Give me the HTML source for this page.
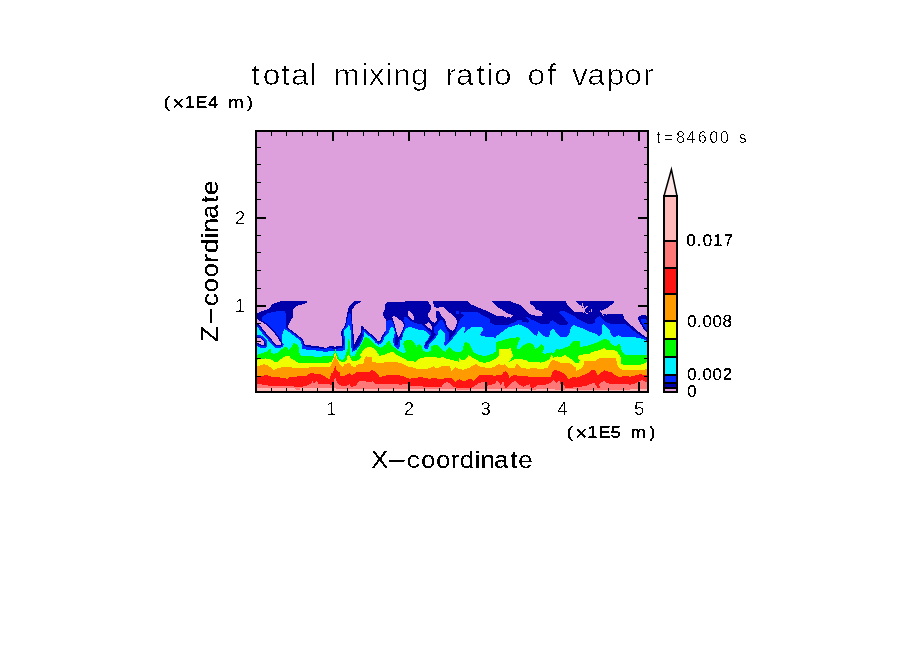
<!DOCTYPE html>
<html><head><meta charset="utf-8"><title>total mixing ratio of vapor</title>
<style>
html,body{margin:0;padding:0;background:#fff;}
body{width:904px;height:654px;overflow:hidden;font-family:"Liberation Sans",sans-serif;}
svg{display:block;position:absolute;left:0;top:0}
text{font-family:"Liberation Sans",sans-serif;}
.thin{stroke:#fff;stroke-width:0.85px;}
.med{stroke:#fff;stroke-width:0.3px;}
.ax{stroke:#fff;stroke-width:0.12px;}
.cb{stroke:#fff;stroke-width:0.07px;}
</style></head><body>
<svg width="904" height="654" viewBox="0 0 904 654">
<defs>
<filter id="th" x="-5%" y="-20%" width="110%" height="140%" color-interpolation-filters="sRGB">
<feColorMatrix type="matrix" values="0 0 0 0 0  0 0 0 0 0  0 0 0 0 0  -1 0 0 1 0"/>
<feComponentTransfer><feFuncA type="discrete" tableValues="0 1 1 1"/></feComponentTransfer>
</filter>
<clipPath id="pc"><rect x="256" y="131" width="392" height="261"/></clipPath></defs>
<rect width="904" height="654" fill="#fff"/>
<g shape-rendering="crispEdges">
<rect x="256" y="131" width="392" height="261" fill="#DDA0DD"/>
<g clip-path="url(#pc)">
<polygon points="254.0,313.3 257.0,313.3 269.3,308.4 272.0,304.4 281.7,300.9 307.0,300.9 307.0,302.7 296.4,306.2 293.3,309.3 292.8,317.3 290.1,321.7 287.9,326.6 287.9,331.0 295.0,335.5 301.2,340.3 304.8,344.8 319.9,346.6 326.1,347.9 330.5,345.7 336.0,347.0 336.0,346.1 344.4,346.1 344.9,338.6 342.2,333.3 342.2,329.3 344.9,326.2 347.5,312.0 349.3,305.8 354.2,300.9 360.8,300.9 360.8,302.2 356.4,304.0 353.7,307.5 351.5,309.7 351.8,322.6 352.4,340.3 352.9,346.1 355.1,343.0 358.2,336.8 361.3,331.5 361.1,326.6 362.6,326.2 365.3,329.7 371.5,335.0 376.8,341.7 379.9,341.2 382.1,335.9 385.7,330.6 385.7,319.1 383.0,315.5 383.5,312.0 385.2,308.4 385.2,304.0 387.4,301.8 404.3,301.8 407.0,300.9 416.0,300.9 614.1,300.9 614.0,302.2 612.6,303.9 609.2,305.8 608.2,307.8 605.3,308.8 603.3,310.2 601.4,311.2 602.3,314.2 606.3,314.2 612.8,314.2 623.0,314.2 624.3,318.6 629.2,323.5 638.1,331.5 647.0,337.7 650.0,337.7 651.0,395.0 253.0,395.0" fill="#0000AA" />
<polygon points="638.1,317.3 641.6,315.1 645.2,315.1 647.0,316.4 647.0,332.4 643.4,328.8 639.9,322.6 638.1,319.5" fill="#0000AA" />
<polyline points="257.0,321.0 262.0,324.0 268.0,329.0 273.0,335.0 277.0,341.0 281.0,344.5 282.2,340.0 282.4,334.4 284.4,329.2 286.6,330.1 295.0,336.4 300.3,340.8 302.1,345.7 302.1,349.2 313.7,350.2 323.4,351.5 326.3,351.9 331.9,350.7 336.7,350.7 341.4,351.1 344.6,349.5 345.3,342.1 344.9,337.7 344.0,334.1 344.4,330.6 346.6,328.4 348.4,325.3 350.2,325.7 350.6,331.5 350.9,337.7 351.3,345.7 351.8,351.9 356.0,350.1 359.8,345.7 362.4,340.3 364.2,335.5 363.7,331.3 365.4,333.3 371.5,337.7 375.9,343.0 378.6,344.8 383.0,342.1 384.3,337.7 388.3,333.3 391.0,327.0 392.8,327.0 394.5,330.6 395.4,335.9 398.1,338.6 401.6,340.3 403.8,331.9 406.1,328.1 408.3,327.2 412.3,327.5 416.0,329.0 420.0,330.0 423.9,330.1 429.8,335.1 428.3,338.6 425.9,341.5 424.7,344.4 423.9,347.4 424.9,348.8 426.9,349.3 428.3,347.9 429.1,344.7 431.3,342.0 434.7,338.6 437.6,335.1 438.1,331.2 440.6,329.0 443.0,331.2 445.0,333.7 444.5,342.5 444.0,344.4 445.5,345.9 447.4,343.9 451.3,340.0 455.2,335.6 458.2,331.2 461.1,328.3 464.0,326.3 464.8,327.9 464.3,333.3 469.2,328.8 471.9,327.0 482.1,327.0 483.0,329.7 479.9,335.0 483.4,336.4 488.7,336.8 496.0,337.7 496.0,336.4 500.4,333.3 504.9,329.7 509.3,327.0 513.7,326.2 518.2,324.4 522.6,325.7 527.9,328.4 531.5,332.4 535.0,335.0 537.2,335.9 538.1,330.1 540.3,333.3 543.9,336.4 549.2,337.2 549.7,333.3 551.0,329.7 553.6,329.3 555.4,331.5 558.1,335.0 561.6,337.2 567.0,337.2 569.6,333.3 570.9,327.0 573.2,325.3 576.0,325.7 576.0,326.2 581.3,327.9 589.3,331.5 596.4,334.1 599.5,336.4 601.7,333.3 602.4,325.3 603.5,324.2 606.2,326.2 609.7,330.6 611.5,335.0 614.1,337.2 618.6,335.0 622.1,337.2 629.2,337.0 638.1,337.7 644.3,339.5 647.0,341.2" fill="none" stroke="#0000AA" stroke-width="5.60" stroke-linejoin="round" />
<polygon points="261.9,317.0 267.3,313.4 272.0,312.2 278.0,311.2 285.4,311.2 285.9,317.8 286.0,329.0 284.4,329.2 282.4,334.4 282.2,340.0 281.0,344.5 277.0,341.0 273.0,335.0 268.0,329.0 262.0,324.0" fill="#0028FF" />
<polygon points="385.9,321.7 389.2,319.8 392.8,320.8 394.1,324.4 395.4,329.7 397.2,335.9 396.3,337.7 394.5,338.6 385.7,338.6 384.3,337.7 385.2,331.5 386.1,329.7" fill="#0028FF" />
<polygon points="404.1,317.6 405.4,317.1 407.8,317.6 410.3,321.0 414.2,322.5 418.1,324.0 420.0,324.1 422.0,324.4 424.9,327.8 429.8,331.7 431.3,332.7 429.8,336.0 423.9,332.0 420.0,332.0 416.0,330.0 409.6,328.8 407.0,331.5 404.3,336.8 401.6,341.2 398.1,338.6" fill="#0028FF" />
<polygon points="434.2,326.8 436.6,324.9 439.6,320.4 441.5,319.5 443.0,320.0 444.5,324.4 446.4,329.3 449.4,332.7 449.3,338.1 445.5,345.9 444.0,344.4 444.5,342.5 445.0,333.7 443.0,331.2 440.6,329.0 438.1,331.2 437.6,335.1 434.7,338.6 436.2,334.2 434.2,332.7 434.0,329.7" fill="#0028FF" />
<polygon points="348.0,313.7 350.2,312.9 351.3,318.2 351.8,325.3 351.1,331.5 350.2,333.3 346.6,333.3 344.9,331.5 344.9,329.7 345.8,326.2 347.1,320.8" fill="#0028FF" />
<polygon points="640.7,319.5 643.4,318.6 647.0,319.9 647.0,331.0 644.3,327.0 641.6,322.6" fill="#0028FF" />
<polygon points="303.0,344.9 305.7,346.6 316.0,348.3 324.0,348.7 329.5,348.0 335.0,349.0 339.9,348.3 343.8,347.6 345.4,344.8 346.8,344.8 345.0,351.5 303.0,351.0" fill="#0028FF" />
<polygon points="456.0,311.2 459.0,311.2 459.0,313.7 456.0,313.7" fill="#0028FF" />
<polygon points="455.0,333.7 457.7,325.3 460.3,319.5 464.3,315.1 461.2,313.7 461.2,311.5 476.3,311.5 479.9,313.7 489.6,319.1 489.6,322.6 496.0,325.3 496.0,325.3 504.9,325.3 509.3,324.4 513.7,322.6 518.2,319.9 520.8,319.5 522.6,321.7 527.9,322.6 529.7,320.8 525.3,317.3 526.2,316.8 531.5,319.5 535.9,321.7 542.1,324.4 548.3,324.4 550.1,321.7 552.8,319.9 554.5,321.7 558.1,324.4 567.0,325.3 567.8,322.6 565.2,319.1 561.6,315.5 559.0,312.9 560.7,311.1 565.2,311.5 569.6,313.7 573.2,315.5 576.0,316.8 576.0,318.2 581.3,320.8 586.6,323.5 592.0,323.9 595.1,322.2 595.1,319.1 597.3,316.8 599.9,316.4 602.6,319.5 605.3,321.7 609.7,323.5 625.7,323.9 631.0,328.8 638.1,334.1 647.0,339.5 651.0,339.5 651.0,352.0 455.0,352.0" fill="#0028FF" />
<polyline points="257.0,321.0 262.0,324.0 268.0,329.0 273.0,335.0 277.0,341.0 281.0,344.5 282.2,340.0 282.4,334.4 284.4,329.2 286.6,330.1 295.0,336.4 300.3,340.8 302.1,345.7 302.1,349.2 313.7,350.2 323.4,351.5 326.3,351.9 331.9,350.7 336.7,350.7 341.4,351.1 344.6,349.5 345.3,342.1 344.9,337.7 344.0,334.1 344.4,330.6 346.6,328.4 348.4,325.3 350.2,325.7 350.6,331.5 350.9,337.7 351.3,345.7 351.8,351.9 356.0,350.1 359.8,345.7 362.4,340.3 364.2,335.5 363.7,331.3 365.4,333.3 371.5,337.7 375.9,343.0 378.6,344.8 383.0,342.1 384.3,337.7 388.3,333.3 391.0,327.0 392.8,327.0 394.5,330.6 395.4,335.9 398.1,338.6 401.6,340.3 403.8,331.9 406.1,328.1 408.3,327.2 412.3,327.5 416.0,329.0 420.0,330.0 423.9,330.1 429.8,335.1 428.3,338.6 425.9,341.5 424.7,344.4 423.9,347.4 424.9,348.8 426.9,349.3 428.3,347.9 429.1,344.7 431.3,342.0 434.7,338.6 437.6,335.1 438.1,331.2 440.6,329.0 443.0,331.2 445.0,333.7 444.5,342.5 444.0,344.4 445.5,345.9 447.4,343.9 451.3,340.0 455.2,335.6 458.2,331.2 461.1,328.3 464.0,326.3 464.8,327.9 464.3,333.3 469.2,328.8 471.9,327.0 482.1,327.0 483.0,329.7 479.9,335.0 483.4,336.4 488.7,336.8 496.0,337.7 496.0,336.4 500.4,333.3 504.9,329.7 509.3,327.0 513.7,326.2 518.2,324.4 522.6,325.7 527.9,328.4 531.5,332.4 535.0,335.0 537.2,335.9 538.1,330.1 540.3,333.3 543.9,336.4 549.2,337.2 549.7,333.3 551.0,329.7 553.6,329.3 555.4,331.5 558.1,335.0 561.6,337.2 567.0,337.2 569.6,333.3 570.9,327.0 573.2,325.3 576.0,325.7 576.0,326.2 581.3,327.9 589.3,331.5 596.4,334.1 599.5,336.4 601.7,333.3 602.4,325.3 603.5,324.2 606.2,326.2 609.7,330.6 611.5,335.0 614.1,337.2 618.6,335.0 622.1,337.2 629.2,337.0 638.1,337.7 644.3,339.5 647.0,341.2" fill="none" stroke="#0028FF" stroke-width="3.00" stroke-linejoin="round" />
<polygon points="254.0,321.0 257.0,321.0 262.0,324.0 268.0,329.0 273.0,335.0 277.0,341.0 281.0,344.5 282.2,340.0 282.4,334.4 284.4,329.2 286.6,330.1 295.0,336.4 300.3,340.8 302.1,345.7 302.1,349.2 313.7,350.2 323.4,351.5 326.3,351.9 331.9,350.7 336.7,350.7 341.4,351.1 344.6,349.5 345.3,342.1 344.9,337.7 344.0,334.1 344.4,330.6 346.6,328.4 348.4,325.3 350.2,325.7 350.6,331.5 350.9,337.7 351.3,345.7 351.8,351.9 356.0,350.1 359.8,345.7 362.4,340.3 364.2,335.5 363.7,331.3 365.4,333.3 371.5,337.7 375.9,343.0 378.6,344.8 383.0,342.1 384.3,337.7 388.3,333.3 391.0,327.0 392.8,327.0 394.5,330.6 395.4,335.9 398.1,338.6 401.6,340.3 403.8,331.9 406.1,328.1 408.3,327.2 412.3,327.5 416.0,329.0 420.0,330.0 423.9,330.1 429.8,335.1 428.3,338.6 425.9,341.5 424.7,344.4 423.9,347.4 424.9,348.8 426.9,349.3 428.3,347.9 429.1,344.7 431.3,342.0 434.7,338.6 437.6,335.1 438.1,331.2 440.6,329.0 443.0,331.2 445.0,333.7 444.5,342.5 444.0,344.4 445.5,345.9 447.4,343.9 451.3,340.0 455.2,335.6 458.2,331.2 461.1,328.3 464.0,326.3 464.8,327.9 464.3,333.3 469.2,328.8 471.9,327.0 482.1,327.0 483.0,329.7 479.9,335.0 483.4,336.4 488.7,336.8 496.0,337.7 496.0,336.4 500.4,333.3 504.9,329.7 509.3,327.0 513.7,326.2 518.2,324.4 522.6,325.7 527.9,328.4 531.5,332.4 535.0,335.0 537.2,335.9 538.1,330.1 540.3,333.3 543.9,336.4 549.2,337.2 549.7,333.3 551.0,329.7 553.6,329.3 555.4,331.5 558.1,335.0 561.6,337.2 567.0,337.2 569.6,333.3 570.9,327.0 573.2,325.3 576.0,325.7 576.0,326.2 581.3,327.9 589.3,331.5 596.4,334.1 599.5,336.4 601.7,333.3 602.4,325.3 603.5,324.2 606.2,326.2 609.7,330.6 611.5,335.0 614.1,337.2 618.6,335.0 622.1,337.2 629.2,337.0 638.1,337.7 644.3,339.5 647.0,341.2 650.0,341.2 651.0,395.0 253.0,395.0" fill="#00F0FF" />
<polygon points="431.3,332.2 436.2,334.2 434.7,338.6 431.3,342.0 429.1,344.7 428.3,347.9 426.9,349.3 424.9,348.8 423.9,347.4 424.7,344.4 425.9,341.5 428.3,338.6 429.8,335.1" fill="#0028FF" />
<polygon points="431.0,332.2 434.2,332.7 436.2,334.2 433.7,337.6 429.8,341.5 427.3,344.4 426.4,345.9 424.9,345.4 426.4,342.5 429.3,338.6 431.3,334.6" fill="#0000AA" />
<polygon points="394.0,335.1 395.9,332.0 395.2,326.0 394.8,322.0 403.9,322.0 403.9,326.0 403.1,332.0 402.7,337.1 399.9,339.5 399.9,345.9 399.1,348.7 396.7,348.7 395.2,346.7 393.6,344.3 393.2,340.3" fill="#0028FF" />
<polygon points="395.9,333.9 398.7,336.7 401.5,333.9 401.5,337.1 399.1,339.5 397.9,344.7 395.5,344.7 395.2,339.5" fill="#0000AA" />
<polygon points="254.1,355.1 257.1,355.1 261.3,353.3 264.9,352.4 268.4,350.6 270.2,347.4 271.3,352.9 273.7,353.7 276.8,353.3 280.8,349.5 284.4,347.5 286.6,347.1 288.4,349.7 290.1,348.4 291.9,346.2 293.3,343.1 295.0,343.5 297.2,344.9 298.6,347.1 298.6,352.0 301.2,355.7 309.2,356.2 318.1,356.8 324.0,356.3 331.9,356.3 334.3,353.5 335.5,349.1 336.3,353.1 339.1,358.3 342.2,360.3 344.6,357.5 346.6,351.9 348.0,348.0 348.4,338.8 349.4,338.8 349.9,348.7 349.7,352.7 351.0,356.7 352.6,356.3 356.0,355.1 354.6,355.1 357.3,350.6 359.9,346.2 362.6,342.2 364.4,337.6 367.0,337.3 369.7,338.7 373.3,342.7 376.8,345.8 380.3,347.7 383.0,346.6 385.7,344.4 388.3,341.5 389.7,341.3 391.4,344.4 392.8,346.2 398.1,350.4 403.4,353.0 406.1,352.1 404.7,348.4 403.0,343.5 404.3,341.3 407.0,340.3 411.4,339.8 414.0,342.2 416.0,345.3 416.0,348.4 417.8,344.9 420.0,344.0 422.2,347.5 423.1,350.6 426.6,352.4 430.6,351.1 431.5,346.2 433.7,344.9 438.2,345.3 441.7,349.3 445.3,352.0 447.0,349.3 449.3,347.1 451.5,349.3 455.9,352.4 460.3,352.4 463.0,349.3 463.9,344.0 465.7,342.0 469.2,343.5 471.0,347.5 472.8,351.1 476.3,354.2 481.6,355.5 487.0,355.5 492.3,353.7 494.9,352.0 496.0,351.1 496.0,341.8 501.3,340.9 506.6,339.1 512.0,337.8 519.1,337.3 519.9,339.5 517.7,344.0 516.8,348.4 519.9,348.9 522.6,346.2 525.3,343.8 529.7,343.1 533.3,344.9 534.6,347.5 535.0,349.7 537.7,347.5 541.2,344.2 543.5,345.8 543.9,349.3 542.1,353.3 545.7,353.7 551.0,352.4 553.6,352.9 556.3,349.3 558.1,348.4 559.4,349.7 565.2,347.5 569.6,345.8 571.4,343.1 573.2,340.9 576.0,340.9 576.0,340.9 580.0,340.9 580.0,347.1 583.1,346.6 590.2,344.9 596.4,342.7 600.8,340.4 603.5,339.1 607.0,339.1 609.7,341.3 610.6,343.5 613.3,345.3 616.8,346.2 618.1,344.4 619.9,344.0 620.8,347.5 622.1,352.0 625.7,355.1 628.3,355.5 632.8,355.1 647.0,354.8 650.0,354.8 651.0,395.0 253.0,395.0" fill="#00FA00" />
<polygon points="254.1,359.8 257.1,359.8 261.3,358.9 265.8,358.4 272.0,359.8 273.7,361.7 278.2,361.5 279.9,359.8 282.6,357.7 286.2,356.2 289.3,356.2 291.5,358.9 295.0,360.4 297.7,362.4 300.3,362.8 328.7,362.8 327.9,363.1 331.9,361.5 333.9,356.7 335.1,351.9 337.1,358.3 339.9,361.1 343.0,362.7 346.2,360.7 347.8,354.7 350.2,357.1 351.8,361.1 356.0,361.5 355.1,361.3 358.2,359.9 360.7,357.7 360.4,354.2 362.6,351.1 365.3,348.0 368.8,347.1 372.4,347.5 375.0,349.7 377.7,352.9 379.3,355.7 383.9,355.1 387.4,353.3 391.0,352.1 393.6,352.1 396.3,354.4 400.7,356.8 405.2,359.2 408.7,361.5 412.3,361.3 416.0,361.7 416.0,361.7 418.7,358.9 424.9,357.3 433.7,357.3 440.8,357.7 442.2,356.4 445.3,358.2 451.5,359.9 455.0,360.8 458.6,361.7 459.5,358.2 462.1,360.4 465.7,359.1 468.8,355.1 471.9,357.3 476.3,359.5 480.7,362.4 485.2,362.6 489.6,361.7 493.2,359.9 496.0,358.6 496.0,357.7 498.2,357.3 499.5,352.9 498.7,348.4 504.9,349.3 511.1,348.2 512.0,353.7 513.7,355.1 511.5,358.2 509.3,361.7 513.7,359.5 519.1,358.9 525.3,359.8 528.8,361.7 535.0,361.7 540.3,362.6 545.7,361.3 549.2,359.5 551.4,355.1 553.6,357.7 557.2,356.4 560.7,357.3 565.2,355.1 568.7,357.3 572.3,359.9 576.0,363.5 576.0,363.5 578.7,362.6 580.0,360.8 577.8,357.7 577.8,356.0 581.3,354.6 588.4,354.2 592.0,352.0 598.2,350.6 602.6,348.9 604.4,348.0 606.6,349.7 615.0,350.2 617.7,352.4 620.3,356.0 621.2,359.1 621.2,363.5 623.9,364.8 632.8,364.8 640.7,364.6 644.3,363.5 647.0,362.2 650.0,362.2 651.0,395.0 253.0,395.0" fill="#F0FF00" />
<polygon points="254.1,366.6 257.1,366.6 260.4,365.3 264.0,364.2 267.5,365.3 270.2,367.0 273.7,369.9 277.3,368.4 282.6,367.2 291.5,367.5 298.6,367.9 302.1,368.4 311.0,367.2 328.7,367.5 327.9,368.2 331.1,365.4 333.5,359.9 335.1,355.5 336.7,359.1 339.1,363.1 343.0,367.4 344.2,363.9 350.2,363.1 351.0,366.2 356.0,367.0 356.4,364.8 363.5,363.3 364.8,358.2 366.2,356.4 371.5,357.3 371.7,361.7 375.0,362.4 378.6,363.1 389.2,362.0 399.9,362.6 403.4,364.4 407.0,366.2 411.4,367.2 416.0,368.4 416.0,369.3 421.3,369.0 426.6,368.8 430.2,367.9 433.3,366.2 435.1,367.8 437.3,368.4 441.7,366.2 446.2,366.0 449.7,366.2 451.5,370.6 455.0,367.2 458.6,369.0 463.9,369.7 469.2,367.9 472.8,365.3 476.3,364.2 479.9,366.6 485.2,367.5 492.3,367.5 496.0,366.2 496.0,365.3 498.7,364.2 502.2,365.1 504.9,364.4 508.4,367.5 515.1,367.9 516.0,364.4 518.2,364.2 519.9,367.0 522.6,367.9 526.2,368.6 535.0,368.4 542.1,368.8 547.4,368.1 549.2,364.4 551.0,361.7 552.8,360.1 556.3,360.7 559.9,362.6 567.0,362.6 570.5,363.5 573.2,366.2 576.0,367.0 576.0,371.0 579.5,369.3 582.2,367.9 584.0,364.4 584.4,361.3 589.3,361.3 595.5,361.3 598.2,358.6 602.6,358.2 615.9,358.2 616.8,361.7 616.8,364.4 618.6,367.0 621.2,369.3 625.7,370.1 632.8,369.7 643.4,369.7 647.0,369.3 650.0,369.3 651.0,395.0 253.0,395.0" fill="#FF9B00" />
<polygon points="254.1,376.4 257.1,376.4 261.3,375.9 266.6,375.0 272.0,376.8 282.6,377.7 285.3,378.1 287.0,379.9 289.7,377.2 298.6,376.4 306.6,375.5 309.2,373.7 311.9,372.5 314.5,373.7 317.2,374.1 319.4,373.7 321.6,375.0 325.2,376.8 329.6,379.2 330.9,375.0 331.1,373.4 333.1,372.6 334.7,367.0 335.2,365.0 336.3,369.4 337.9,371.8 339.9,372.6 340.7,376.6 343.0,376.2 346.2,375.0 349.4,373.4 351.8,375.0 354.2,374.2 356.0,372.6 356.4,372.4 362.6,371.9 369.7,371.5 371.9,370.1 375.0,371.5 377.2,373.7 379.5,376.8 383.0,376.4 385.7,375.5 391.0,375.0 396.3,375.0 399.9,375.5 403.4,376.4 407.0,377.7 409.6,378.7 413.2,378.1 416.0,377.7 416.0,377.7 421.3,377.2 426.6,378.4 430.2,378.7 435.5,377.9 438.2,379.5 440.8,378.7 445.3,378.4 449.7,377.9 452.4,378.4 455.5,381.7 459.5,379.0 463.9,381.7 466.6,379.9 471.0,378.6 473.6,381.2 477.2,377.7 479.9,375.0 483.4,374.8 489.6,375.0 496.0,375.9 496.0,375.0 501.3,375.5 503.5,372.4 505.8,371.0 508.0,373.3 509.3,377.7 513.7,375.0 519.1,375.9 525.3,375.5 528.8,376.6 535.0,377.0 545.7,377.0 551.0,376.6 552.8,371.5 554.5,370.1 558.1,370.8 561.6,371.9 564.3,374.1 567.0,376.8 569.2,379.9 570.5,377.7 576.0,377.0 576.0,377.7 581.3,375.9 586.6,374.1 589.3,371.9 592.0,370.1 595.1,370.1 596.4,373.3 598.2,375.5 600.8,372.8 604.4,370.4 607.9,371.5 611.5,372.4 615.0,375.0 618.6,376.6 625.7,376.4 631.0,376.6 636.3,375.0 640.7,374.1 644.3,375.0 647.0,375.5 650.0,375.5 651.0,395.0 253.0,395.0" fill="#FF1414" />
<polygon points="254.1,383.5 257.1,383.5 261.3,384.3 264.9,385.2 273.7,386.1 291.5,386.1 298.6,387.3 305.7,386.1 309.2,384.3 311.4,383.0 312.8,380.8 314.1,383.9 315.9,382.1 317.2,380.8 318.5,383.9 321.6,383.5 327.0,383.5 331.4,384.8 334.0,384.3 333.9,381.4 335.1,377.0 336.8,381.4 338.7,384.5 342.2,386.1 346.2,385.7 349.4,384.1 351.0,386.9 353.4,386.5 356.0,385.3 356.4,385.2 357.7,382.1 359.5,381.2 365.3,381.1 366.6,382.1 371.5,381.9 372.8,380.8 373.7,382.6 376.8,384.3 398.1,384.3 399.9,384.8 407.0,383.9 410.5,385.7 416.0,385.7 416.0,386.1 424.9,386.6 433.7,387.0 441.7,386.7 443.5,383.9 447.0,382.1 449.7,383.0 453.3,386.6 456.8,387.9 462.1,388.3 465.7,387.9 469.2,388.3 472.8,387.4 476.3,384.8 479.9,382.6 483.4,382.1 486.1,382.6 487.0,385.7 489.6,385.2 493.2,384.3 496.0,383.0 496.0,380.3 498.7,382.1 500.9,385.7 503.1,380.3 504.4,385.7 505.8,388.3 509.3,385.2 512.9,382.1 515.1,381.1 517.3,383.0 519.9,385.2 523.5,386.6 527.0,385.2 529.7,384.3 531.5,389.2 534.1,387.4 538.6,384.6 545.7,384.6 551.0,383.0 553.6,380.2 556.3,383.0 559.0,380.2 560.7,384.3 563.4,384.8 566.1,388.3 570.5,388.3 576.0,386.7 576.0,387.0 581.3,386.6 586.6,385.7 590.2,383.9 594.6,383.0 596.0,385.7 597.7,388.3 599.9,388.3 599.1,383.9 601.7,381.7 604.4,381.2 606.2,383.0 611.5,383.9 618.6,383.5 625.7,384.3 631.0,384.6 636.3,383.0 639.9,381.2 641.6,379.9 644.3,381.2 647.0,382.6 650.0,382.6 651.0,395.0 253.0,395.0" fill="#FF7878" />
<polygon points="254.1,388.3 257.1,388.3 295.0,388.3 296.8,390.3 299.5,390.3 300.3,388.3 336.0,388.3 336.0,388.5 344.9,389.0 357.3,389.2 362.6,388.5 367.9,389.2 380.3,389.2 415.8,389.0 416.0,388.5 423.1,389.4 424.9,388.5 438.2,389.0 451.5,388.8 460.3,389.9 469.2,389.9 472.8,389.2 485.2,389.2 487.0,388.5 496.0,388.5 496.0,389.2 501.3,388.5 510.2,389.5 516.4,388.8 529.7,389.5 533.3,389.9 537.7,389.2 549.2,389.2 563.4,389.9 567.0,388.9 576.0,388.5 576.0,389.9 628.3,390.1 631.0,389.2 647.0,389.0 650.0,389.0 651.0,395.0 253.0,395.0" fill="#FFB9B9" />
<polyline points="281.0,343.0 280.5,344.8 276.0,344.8 272.5,340.5 268.5,336.0 263.0,329.5 259.5,324.8 257.0,323.2" fill="none" stroke="#0028FF" stroke-width="6.00" stroke-linejoin="round" />
<polyline points="257.0,319.2 262.0,322.0 268.0,326.0 273.0,331.5 278.0,338.0 281.0,343.0 280.5,344.8 276.0,344.8 272.5,340.5 268.5,336.0 263.0,329.5 259.5,324.8 257.0,323.2 257.0,319.2" fill="none" stroke="#0000AA" stroke-width="2.80" stroke-linejoin="round" />
<polygon points="257.0,319.2 262.0,322.0 268.0,326.0 273.0,331.5 278.0,338.0 281.0,343.0 280.5,344.8 276.0,344.8 272.5,340.5 268.5,336.0 263.0,329.5 259.5,324.8 257.0,323.2" fill="#DDA0DD" />
<polyline points="257.0,338.0 260.5,338.5 264.0,342.0 264.5,345.0 261.5,345.0 257.0,342.5 257.0,338.0" fill="none" stroke="#0028FF" stroke-width="6.00" stroke-linejoin="round" />
<polyline points="257.0,338.0 260.5,338.5 264.0,342.0 264.5,345.0 261.5,345.0 257.0,342.5 257.0,338.0" fill="none" stroke="#0000AA" stroke-width="2.80" stroke-linejoin="round" />
<polygon points="257.0,338.0 260.5,338.5 264.0,342.0 264.5,345.0 261.5,345.0 257.0,342.5" fill="#DDA0DD" />
<polyline points="392.3,316.8 394.5,316.0 399.9,319.9 402.5,321.7 404.3,325.3 402.5,329.7 399.9,335.9 398.1,337.2 396.3,331.5 394.5,323.5 392.8,319.9 392.3,316.8" fill="none" stroke="#0000AA" stroke-width="2.00" stroke-linejoin="round" />
<polygon points="392.3,316.8 394.5,316.0 399.9,319.9 402.5,321.7 404.3,325.3 402.5,329.7 399.9,335.9 398.1,337.2 396.3,331.5 394.5,323.5 392.8,319.9" fill="#DDA0DD" />
<polyline points="408.1,311.2 409.8,311.0 411.2,312.7 413.2,315.1 413.9,317.6 413.9,319.5 411.7,319.5 409.8,317.6 408.1,316.1 408.1,311.2" fill="none" stroke="#0000AA" stroke-width="2.00" stroke-linejoin="round" />
<polygon points="408.1,311.2 409.8,311.0 411.2,312.7 413.2,315.1 413.9,317.6 413.9,319.5 411.7,319.5 409.8,317.6 408.1,316.1" fill="#DDA0DD" />
<polyline points="425.1,324.4 428.8,322.2 430.5,323.9 431.7,326.8 431.7,329.7 428.8,327.8 425.9,325.8 425.1,324.4" fill="none" stroke="#0000AA" stroke-width="2.00" stroke-linejoin="round" />
<polygon points="425.1,324.4 428.8,322.2 430.5,323.9 431.7,326.8 431.7,329.7 428.8,327.8 425.9,325.8" fill="#DDA0DD" />
<polyline points="427.5,300.9 431.1,305.8 431.1,309.3 428.4,313.7 428.4,316.4 432.0,321.7 434.6,322.6 436.8,320.8 436.0,312.0 436.8,310.6 439.1,311.5 441.7,316.4 445.3,319.9 446.6,325.3 448.8,328.8 452.4,330.6 455.0,328.8 456.8,322.6 456.4,319.1 453.3,315.5 449.7,312.9 446.2,309.3 443.5,307.1 440.8,307.1 437.3,308.0 435.1,307.1 433.7,307.5 433.7,304.9 432.4,301.8 432.9,300.9" fill="none" stroke="#0000AA" stroke-width="1.60" stroke-linejoin="round" />
<polygon points="427.5,299.5 427.5,300.9 431.1,305.8 431.1,309.3 428.4,313.7 428.4,316.4 432.0,321.7 434.6,322.6 436.8,320.8 436.0,312.0 436.8,310.6 439.1,311.5 441.7,316.4 445.3,319.9 446.6,325.3 448.8,328.8 452.4,330.6 455.0,328.8 456.8,322.6 456.4,319.1 453.3,315.5 449.7,312.9 446.2,309.3 443.5,307.1 440.8,307.1 437.3,308.0 435.1,307.1 433.7,307.5 433.7,304.9 432.4,301.8 432.9,300.9 432.9,299.5" fill="#DDA0DD" />
<polyline points="467.0,300.9 471.0,304.4 478.1,307.5 487.0,311.1 496.0,315.5 496.0,316.0 504.0,316.4 506.6,317.7 509.3,316.8 510.2,318.2 512.9,315.1 506.6,312.9 501.3,309.3 496.0,306.2 496.0,304.9 493.2,303.1 491.4,301.3" fill="none" stroke="#0000AA" stroke-width="1.60" stroke-linejoin="round" />
<polygon points="467.0,299.5 467.0,300.9 471.0,304.4 478.1,307.5 487.0,311.1 496.0,315.5 496.0,316.0 504.0,316.4 506.6,317.7 509.3,316.8 510.2,318.2 512.9,315.1 506.6,312.9 501.3,309.3 496.0,306.2 496.0,304.9 493.2,303.1 491.4,301.3 491.4,299.5" fill="#DDA0DD" />
<polyline points="509.3,300.9 513.7,302.7 519.1,304.4 522.6,306.6 526.2,311.1 529.7,314.2 535.0,315.5 542.1,315.5 543.0,313.3 539.5,310.6 535.9,309.3 534.1,306.2 531.5,304.9 529.3,302.2 530.1,300.9" fill="none" stroke="#0000AA" stroke-width="1.60" stroke-linejoin="round" />
<polygon points="509.3,299.5 509.3,300.9 513.7,302.7 519.1,304.4 522.6,306.6 526.2,311.1 529.7,314.2 535.0,315.5 542.1,315.5 543.0,313.3 539.5,310.6 535.9,309.3 534.1,306.2 531.5,304.9 529.3,302.2 530.1,300.9 530.1,299.5" fill="#DDA0DD" />
<polyline points="565.2,300.9 567.0,304.0 571.4,308.9 572.0,309.7 575.4,312.4 578.9,312.4 583.3,312.2 583.7,309.7 581.8,306.3 578.4,303.9 575.9,301.4" fill="none" stroke="#0000AA" stroke-width="1.60" stroke-linejoin="round" />
<polygon points="565.2,299.5 565.2,300.9 567.0,304.0 571.4,308.9 572.0,309.7 575.4,312.4 578.9,312.4 583.3,312.2 583.7,309.7 581.8,306.3 578.4,303.9 575.9,301.4 575.9,299.5" fill="#DDA0DD" />
<polyline points="582.5,302.9 582.8,306.6" fill="none" stroke="#DDA0DD" stroke-width="1.00" stroke-linejoin="round" />
<polyline points="587.7,306.1 585.0,308.5 584.2,310.7 586.2,313.2 587.9,313.7" fill="none" stroke="#DDA0DD" stroke-width="1.00" stroke-linejoin="round" />
<polyline points="583.6,306.3 584.0,312.7" fill="none" stroke="#DDA0DD" stroke-width="1.00" stroke-linejoin="round" />
<polyline points="589.4,311.0 589.4,312.0" fill="none" stroke="#DDA0DD" stroke-width="1.00" stroke-linejoin="round" />
<polyline points="591.7,309.0 591.7,312.0" fill="none" stroke="#DDA0DD" stroke-width="1.00" stroke-linejoin="round" />
<polyline points="600.5,310.2 600.8,312.0" fill="none" stroke="#DDA0DD" stroke-width="1.00" stroke-linejoin="round" />
<polyline points="601.4,312.2 603.8,315.9" fill="none" stroke="#DDA0DD" stroke-width="1.00" stroke-linejoin="round" />
<polyline points="603.3,309.7 602.3,312.7" fill="none" stroke="#DDA0DD" stroke-width="1.00" stroke-linejoin="round" />
<polyline points="606.0,312.7 606.0,314.6" fill="none" stroke="#DDA0DD" stroke-width="1.00" stroke-linejoin="round" />
</g>
<line x1="271.50" y1="392.00" x2="271.50" y2="388.00" stroke="#000" stroke-width="1"/>
<line x1="271.50" y1="131.00" x2="271.50" y2="136.00" stroke="#000" stroke-width="1"/>
<line x1="286.50" y1="392.00" x2="286.50" y2="388.00" stroke="#000" stroke-width="1"/>
<line x1="286.50" y1="131.00" x2="286.50" y2="136.00" stroke="#000" stroke-width="1"/>
<line x1="302.50" y1="392.00" x2="302.50" y2="388.00" stroke="#000" stroke-width="1"/>
<line x1="302.50" y1="131.00" x2="302.50" y2="136.00" stroke="#000" stroke-width="1"/>
<line x1="317.50" y1="392.00" x2="317.50" y2="388.00" stroke="#000" stroke-width="1"/>
<line x1="317.50" y1="131.00" x2="317.50" y2="136.00" stroke="#000" stroke-width="1"/>
<line x1="333.00" y1="392.00" x2="333.00" y2="382.00" stroke="#000" stroke-width="2"/>
<line x1="333.00" y1="131.00" x2="333.00" y2="141.00" stroke="#000" stroke-width="2"/>
<line x1="347.50" y1="392.00" x2="347.50" y2="388.00" stroke="#000" stroke-width="1"/>
<line x1="347.50" y1="131.00" x2="347.50" y2="136.00" stroke="#000" stroke-width="1"/>
<line x1="363.50" y1="392.00" x2="363.50" y2="388.00" stroke="#000" stroke-width="1"/>
<line x1="363.50" y1="131.00" x2="363.50" y2="136.00" stroke="#000" stroke-width="1"/>
<line x1="378.50" y1="392.00" x2="378.50" y2="388.00" stroke="#000" stroke-width="1"/>
<line x1="378.50" y1="131.00" x2="378.50" y2="136.00" stroke="#000" stroke-width="1"/>
<line x1="393.50" y1="392.00" x2="393.50" y2="388.00" stroke="#000" stroke-width="1"/>
<line x1="393.50" y1="131.00" x2="393.50" y2="136.00" stroke="#000" stroke-width="1"/>
<line x1="409.00" y1="392.00" x2="409.00" y2="382.00" stroke="#000" stroke-width="2"/>
<line x1="409.00" y1="131.00" x2="409.00" y2="141.00" stroke="#000" stroke-width="2"/>
<line x1="424.50" y1="392.00" x2="424.50" y2="388.00" stroke="#000" stroke-width="1"/>
<line x1="424.50" y1="131.00" x2="424.50" y2="136.00" stroke="#000" stroke-width="1"/>
<line x1="439.50" y1="392.00" x2="439.50" y2="388.00" stroke="#000" stroke-width="1"/>
<line x1="439.50" y1="131.00" x2="439.50" y2="136.00" stroke="#000" stroke-width="1"/>
<line x1="455.50" y1="392.00" x2="455.50" y2="388.00" stroke="#000" stroke-width="1"/>
<line x1="455.50" y1="131.00" x2="455.50" y2="136.00" stroke="#000" stroke-width="1"/>
<line x1="470.50" y1="392.00" x2="470.50" y2="388.00" stroke="#000" stroke-width="1"/>
<line x1="470.50" y1="131.00" x2="470.50" y2="136.00" stroke="#000" stroke-width="1"/>
<line x1="486.00" y1="392.00" x2="486.00" y2="382.00" stroke="#000" stroke-width="2"/>
<line x1="486.00" y1="131.00" x2="486.00" y2="141.00" stroke="#000" stroke-width="2"/>
<line x1="501.50" y1="392.00" x2="501.50" y2="388.00" stroke="#000" stroke-width="1"/>
<line x1="501.50" y1="131.00" x2="501.50" y2="136.00" stroke="#000" stroke-width="1"/>
<line x1="516.50" y1="392.00" x2="516.50" y2="388.00" stroke="#000" stroke-width="1"/>
<line x1="516.50" y1="131.00" x2="516.50" y2="136.00" stroke="#000" stroke-width="1"/>
<line x1="531.50" y1="392.00" x2="531.50" y2="388.00" stroke="#000" stroke-width="1"/>
<line x1="531.50" y1="131.00" x2="531.50" y2="136.00" stroke="#000" stroke-width="1"/>
<line x1="547.50" y1="392.00" x2="547.50" y2="388.00" stroke="#000" stroke-width="1"/>
<line x1="547.50" y1="131.00" x2="547.50" y2="136.00" stroke="#000" stroke-width="1"/>
<line x1="562.00" y1="392.00" x2="562.00" y2="382.00" stroke="#000" stroke-width="2"/>
<line x1="562.00" y1="131.00" x2="562.00" y2="141.00" stroke="#000" stroke-width="2"/>
<line x1="577.50" y1="392.00" x2="577.50" y2="388.00" stroke="#000" stroke-width="1"/>
<line x1="577.50" y1="131.00" x2="577.50" y2="136.00" stroke="#000" stroke-width="1"/>
<line x1="593.50" y1="392.00" x2="593.50" y2="388.00" stroke="#000" stroke-width="1"/>
<line x1="593.50" y1="131.00" x2="593.50" y2="136.00" stroke="#000" stroke-width="1"/>
<line x1="608.50" y1="392.00" x2="608.50" y2="388.00" stroke="#000" stroke-width="1"/>
<line x1="608.50" y1="131.00" x2="608.50" y2="136.00" stroke="#000" stroke-width="1"/>
<line x1="623.50" y1="392.00" x2="623.50" y2="388.00" stroke="#000" stroke-width="1"/>
<line x1="623.50" y1="131.00" x2="623.50" y2="136.00" stroke="#000" stroke-width="1"/>
<line x1="639.00" y1="392.00" x2="639.00" y2="382.00" stroke="#000" stroke-width="2"/>
<line x1="639.00" y1="131.00" x2="639.00" y2="141.00" stroke="#000" stroke-width="2"/>
<line x1="256.00" y1="376.50" x2="261.00" y2="376.50" stroke="#000" stroke-width="1"/>
<line x1="648.00" y1="376.50" x2="644.00" y2="376.50" stroke="#000" stroke-width="1"/>
<line x1="256.00" y1="358.50" x2="261.00" y2="358.50" stroke="#000" stroke-width="1"/>
<line x1="648.00" y1="358.50" x2="644.00" y2="358.50" stroke="#000" stroke-width="1"/>
<line x1="256.00" y1="341.50" x2="261.00" y2="341.50" stroke="#000" stroke-width="1"/>
<line x1="648.00" y1="341.50" x2="644.00" y2="341.50" stroke="#000" stroke-width="1"/>
<line x1="256.00" y1="323.50" x2="261.00" y2="323.50" stroke="#000" stroke-width="1"/>
<line x1="648.00" y1="323.50" x2="644.00" y2="323.50" stroke="#000" stroke-width="1"/>
<line x1="256.00" y1="306.00" x2="266.00" y2="306.00" stroke="#000" stroke-width="2"/>
<line x1="648.00" y1="306.00" x2="638.00" y2="306.00" stroke="#000" stroke-width="2"/>
<line x1="256.00" y1="288.50" x2="261.00" y2="288.50" stroke="#000" stroke-width="1"/>
<line x1="648.00" y1="288.50" x2="644.00" y2="288.50" stroke="#000" stroke-width="1"/>
<line x1="256.00" y1="270.50" x2="261.00" y2="270.50" stroke="#000" stroke-width="1"/>
<line x1="648.00" y1="270.50" x2="644.00" y2="270.50" stroke="#000" stroke-width="1"/>
<line x1="256.00" y1="252.50" x2="261.00" y2="252.50" stroke="#000" stroke-width="1"/>
<line x1="648.00" y1="252.50" x2="644.00" y2="252.50" stroke="#000" stroke-width="1"/>
<line x1="256.00" y1="235.50" x2="261.00" y2="235.50" stroke="#000" stroke-width="1"/>
<line x1="648.00" y1="235.50" x2="644.00" y2="235.50" stroke="#000" stroke-width="1"/>
<line x1="256.00" y1="218.00" x2="266.00" y2="218.00" stroke="#000" stroke-width="2"/>
<line x1="648.00" y1="218.00" x2="638.00" y2="218.00" stroke="#000" stroke-width="2"/>
<line x1="256.00" y1="199.50" x2="261.00" y2="199.50" stroke="#000" stroke-width="1"/>
<line x1="648.00" y1="199.50" x2="644.00" y2="199.50" stroke="#000" stroke-width="1"/>
<line x1="256.00" y1="182.50" x2="261.00" y2="182.50" stroke="#000" stroke-width="1"/>
<line x1="648.00" y1="182.50" x2="644.00" y2="182.50" stroke="#000" stroke-width="1"/>
<line x1="256.00" y1="164.50" x2="261.00" y2="164.50" stroke="#000" stroke-width="1"/>
<line x1="648.00" y1="164.50" x2="644.00" y2="164.50" stroke="#000" stroke-width="1"/>
<line x1="256.00" y1="147.50" x2="261.00" y2="147.50" stroke="#000" stroke-width="1"/>
<line x1="648.00" y1="147.50" x2="644.00" y2="147.50" stroke="#000" stroke-width="1"/>
<rect x="256" y="131" width="392" height="261" fill="none" stroke="#000" stroke-width="2"/>
<rect x="664" y="387" width="13" height="6" fill="#DDA0DD"/>
<rect x="664" y="382" width="13" height="6" fill="#0000AA"/>
<rect x="664" y="374" width="13" height="9" fill="#0028FF"/>
<rect x="664" y="356" width="13" height="19" fill="#00F0FF"/>
<rect x="664" y="338" width="13" height="19" fill="#00FA00"/>
<rect x="664" y="320" width="13" height="19" fill="#F0FF00"/>
<rect x="664" y="293" width="13" height="28" fill="#FF9B00"/>
<rect x="664" y="267" width="13" height="27" fill="#FF1414"/>
<rect x="664" y="240" width="13" height="28" fill="#FF7878"/>
<rect x="664" y="195" width="13" height="46" fill="#FFB9B9"/>
<rect x="664" y="387" width="13" height="2" fill="#000"/>
<rect x="664" y="382" width="13" height="2" fill="#000"/>
<rect x="664" y="374" width="13" height="2" fill="#000"/>
<rect x="664" y="356" width="13" height="2" fill="#000"/>
<rect x="664" y="338" width="13" height="2" fill="#000"/>
<rect x="664" y="320" width="13" height="2" fill="#000"/>
<rect x="664" y="293" width="13" height="2" fill="#000"/>
<rect x="664" y="267" width="13" height="2" fill="#000"/>
<rect x="664" y="240" width="13" height="2" fill="#000"/>
<polygon points="664,196 671.4,169.5 677,196" fill="#FFE6E6" stroke="#000" stroke-width="1.5" stroke-linejoin="miter" stroke-miterlimit="10" shape-rendering="auto"/>
<rect x="664" y="196" width="13" height="196" fill="none" stroke="#000" stroke-width="2"/>
</g>
<g font-family="Liberation Sans, sans-serif" fill="#000" filter="url(#th)"><text transform="translate(0,84.50) scale(1,0.930)" x="251.18 262.83 280.98 291.20 309.54" font-size="31.50" class="thin">total</text>
<text transform="translate(0,84.50) scale(1,0.930)" x="333.63 361.44 368.83 385.84 393.28 411.00" font-size="31.50" class="thin">mixing</text>
<text transform="translate(0,84.50) scale(1,0.930)" x="445.66 456.10 476.48 486.84 493.93" font-size="31.50" class="thin">ratio</text>
<text transform="translate(0,84.50) scale(1,0.930)" x="527.43 547.18" font-size="31.50" class="thin">of</text>
<text transform="translate(0,84.50) scale(1,0.930)" x="572.12 587.60 606.87 624.23 643.31" font-size="31.50" class="thin">vapor</text>
<text transform="translate(0,108.20) scale(1,0.910)" x="163.64 184.78 195.23 207.96 228.27 246.66" font-size="18.50">(1E4m)</text>
<text transform="translate(0,110.20) scale(1,1.000)" x="172.25" font-size="20.50">×</text>
<text transform="translate(0,437.70) scale(1,0.910)" x="566.64 587.13 598.53 610.52 630.62 649.36" font-size="18.50">(1E5m)</text>
<text transform="translate(0,439.70) scale(1,1.000)" x="575.25" font-size="20.50">×</text>
<text transform="translate(0,142.90) scale(1,1.000)" x="656.47 664.35 676.15 686.53 698.03 709.38 719.88 738.70" font-size="15.70" class="med">t=84600s</text>
<text transform="translate(0,414.60) scale(1,1.000)" x="326.36" font-size="18.60" class="med">1</text>
<text transform="translate(0,414.60) scale(1,1.000)" x="403.79" font-size="18.60" class="med">2</text>
<text transform="translate(0,414.60) scale(1,1.000)" x="480.58" font-size="18.60" class="med">3</text>
<text transform="translate(0,414.60) scale(1,1.000)" x="557.18" font-size="18.60" class="med">4</text>
<text transform="translate(0,414.60) scale(1,1.000)" x="634.09" font-size="18.60" class="med">5</text>
<text transform="translate(0,223.90) scale(1,1.000)" x="234.94" font-size="18.60" class="med">2</text>
<text transform="translate(0,311.60) scale(1,1.000)" x="234.86" font-size="18.60" class="med">1</text>
<text transform="translate(0,245.90) scale(1,1.000)" x="686.29 696.86 702.69 713.26 723.83" font-size="17.00" class="cb">0.017</text>
<text transform="translate(0,326.80) scale(1,1.000)" x="686.99 697.07 702.41 712.48 722.56" font-size="17.00" class="cb">0.008</text>
<text transform="translate(0,379.90) scale(1,1.000)" x="686.99 697.11 702.49 712.61 722.73" font-size="17.00" class="cb">0.002</text>
<text transform="translate(0,397.00) scale(1,1.000)" x="686.99" font-size="17.00" class="cb">0</text>
<text transform="translate(0,468.40) scale(1,0.930)" x="370.99 406.79 420.97 435.92 450.66 459.88 474.79 480.57 494.00 510.18 518.17" font-size="26.00" class="ax">Xcoordinate</text>
<text transform="translate(0,468.30) scale(1,0.700)" x="387.62" font-size="32.00" class="ax">−</text>
<g transform="translate(217.8,340.1) rotate(-90)"><text transform="translate(0,0.00) scale(1,0.930)" x="-1.83 33.79 47.97 62.92 77.66 86.88 101.79 107.57 121.00 137.18 145.17" font-size="26.00" class="ax">Zcoordinate</text><text transform="translate(0,-0.10) scale(1,0.700)" x="15.35" font-size="30.00" class="ax">−</text></g></g>
</svg>
</body></html>
